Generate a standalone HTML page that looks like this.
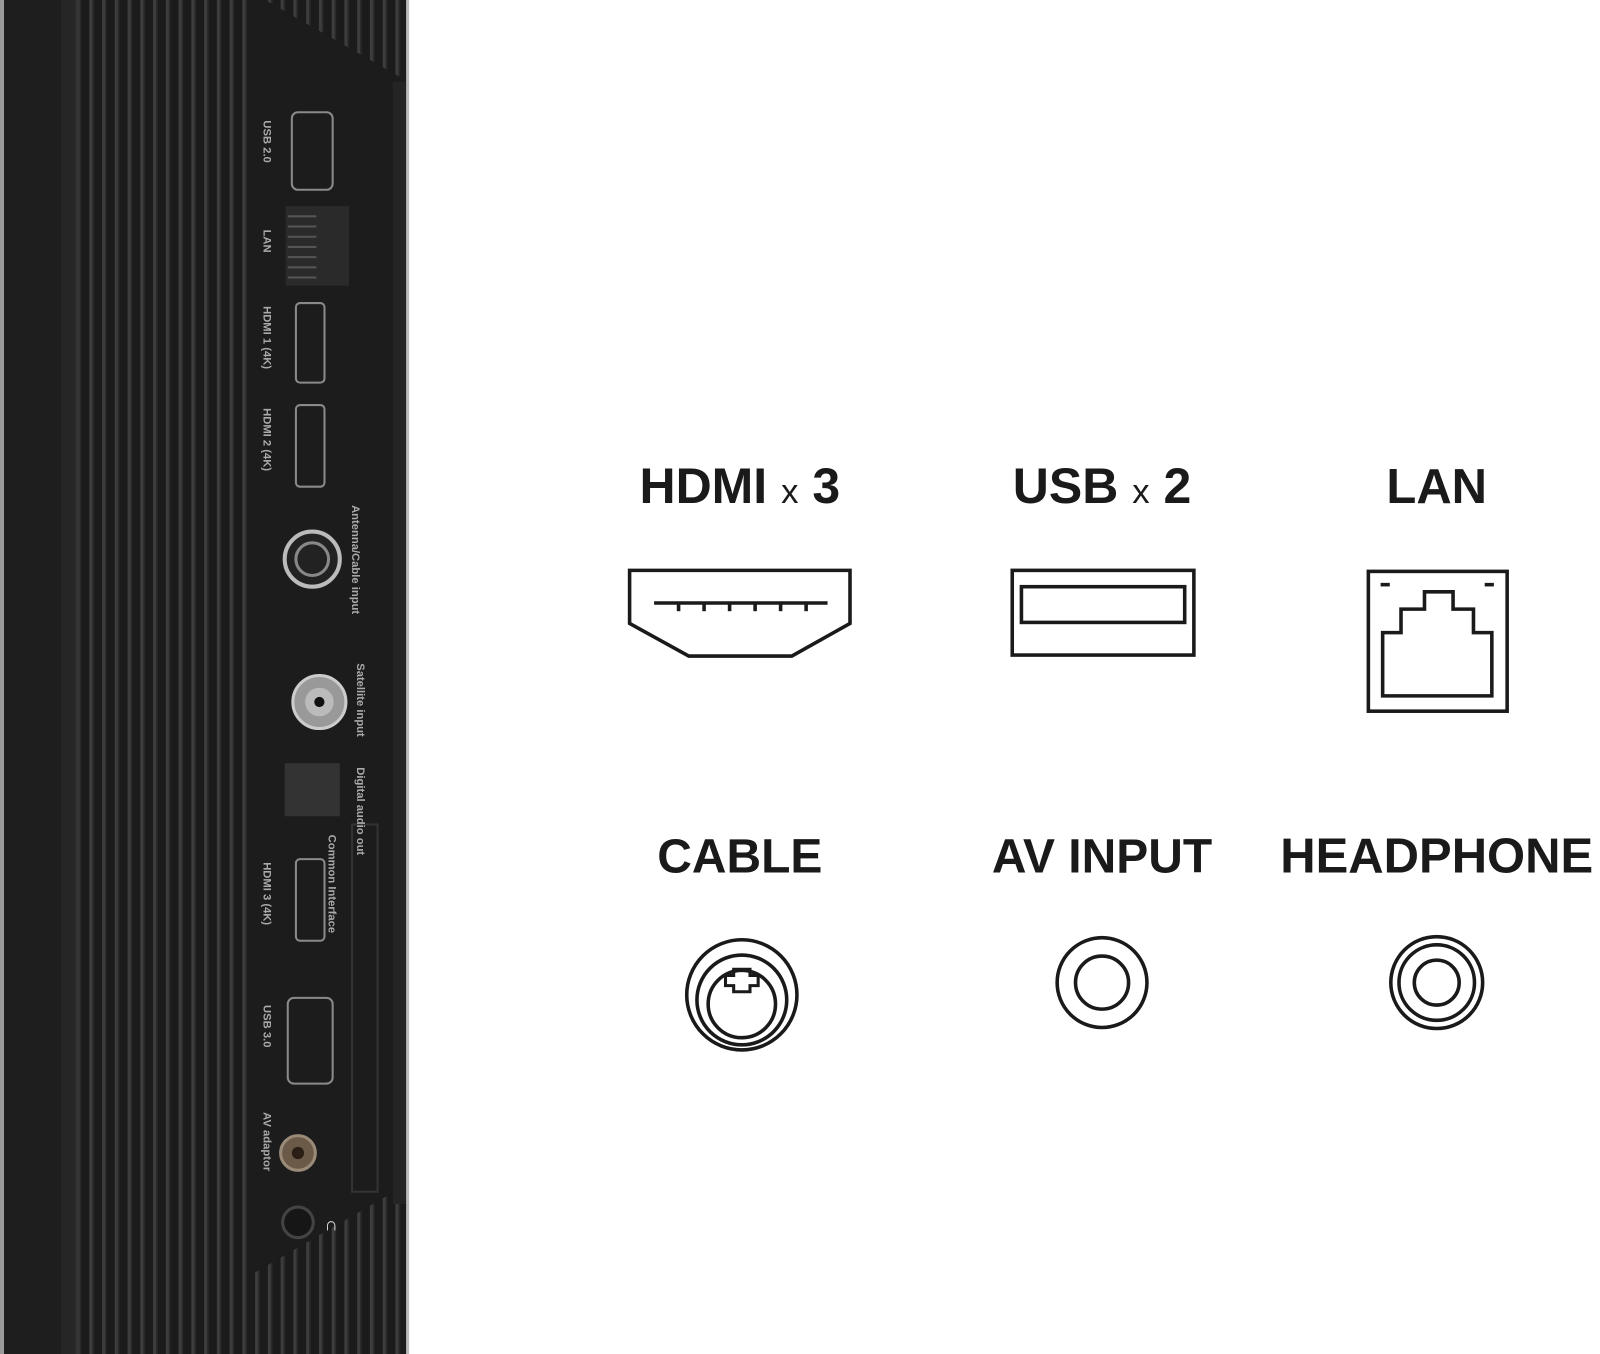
<!DOCTYPE html>
<html><head><style>
html,body{margin:0;padding:0;background:#fff;}
svg{display:block;}
</style></head><body>
<svg width="1600" height="1354" viewBox="0 0 1568 1327" preserveAspectRatio="none" xmlns="http://www.w3.org/2000/svg">
<defs>
<pattern id="rib" width="12.5" height="20" patternUnits="userSpaceOnUse">
<rect width="12.5" height="20" fill="#1b1b1b"/>
<rect x="0" width="3" height="20" fill="#3d3d3d"/>
<rect x="3" width="1.5" height="20" fill="#2a2a2a"/>
</pattern>
</defs>
<rect x="0" y="0" width="1568" height="1327" fill="#fff"/>
<rect x="0" y="0" width="400" height="1327" fill="url(#rib)"/>
<rect x="0" y="0" width="4" height="1327" fill="#9a9a9a"/>
<rect x="4" y="0" width="56" height="1327" fill="#1e1e1e"/>
<rect x="60" y="0" width="14" height="1327" fill="#262626"/>
<rect x="74" y="0" width="3" height="1327" fill="#333"/>
<polygon points="245,0 260,0 400,80 400,1250 245,1250" fill="#1c1c1c"/>
<polygon points="260,0 400,0 400,80" fill="url(#rib)"/>
<polygon points="245,1250 400,1160 400,1327 245,1327" fill="url(#rib)"/>
<rect x="385" y="80" width="13" height="1100" fill="#242424"/>
<rect x="398" y="0" width="3" height="1327" fill="#bbb"/>
<g fill="none" stroke="#8a8a8a" stroke-width="2">
<rect x="286" y="110" width="40" height="76" rx="6"/>
<rect x="290" y="297" width="28" height="78" rx="4"/>
<rect x="290" y="397" width="28" height="80" rx="4"/>
<rect x="290" y="842" width="28" height="80" rx="4"/>
<rect x="282" y="978" width="44" height="84" rx="6"/>
</g>
<rect x="280" y="202" width="62" height="78" fill="#2a2a2a"/>
<g stroke="#555" stroke-width="2">
<line x1="282" y1="212" x2="310" y2="212"/><line x1="282" y1="222" x2="310" y2="222"/><line x1="282" y1="232" x2="310" y2="232"/><line x1="282" y1="242" x2="310" y2="242"/><line x1="282" y1="252" x2="310" y2="252"/><line x1="282" y1="262" x2="310" y2="262"/><line x1="282" y1="272" x2="310" y2="272"/>
</g>
<circle cx="306" cy="548" r="27" fill="#222" stroke="#bbb" stroke-width="4"/>
<circle cx="306" cy="548" r="16" fill="none" stroke="#888" stroke-width="3"/>
<circle cx="313" cy="688" r="26" fill="#999" stroke="#ccc" stroke-width="3"/>
<circle cx="313" cy="688" r="14" fill="#bbb"/>
<circle cx="313" cy="688" r="5" fill="#111"/>
<rect x="279" y="748" width="54" height="52" fill="#333"/>
<rect x="345" y="808" width="25" height="360" fill="none" stroke="#333" stroke-width="2"/>
<circle cx="292" cy="1130" r="17" fill="#6b5a48" stroke="#9a8a78" stroke-width="3"/>
<circle cx="292" cy="1130" r="6" fill="#2a1e15"/>
<circle cx="292" cy="1198" r="15" fill="#161616" stroke="#444" stroke-width="3"/>
<text x="318" y="1206" fill="#ddd" font-family="Liberation Sans, sans-serif" font-size="18" font-weight="bold">∩</text>
<g fill="#aaa" font-family="Liberation Sans, sans-serif" font-size="11" font-weight="bold">
<text transform="translate(258,118) rotate(90)">USB 2.0</text>
<text transform="translate(258,225) rotate(90)">LAN</text>
<text transform="translate(258,300) rotate(90)">HDMI 1 (4K)</text>
<text transform="translate(258,400) rotate(90)">HDMI 2 (4K)</text>
<text transform="translate(345,495) rotate(90)">Antenna/Cable input</text>
<text transform="translate(350,650) rotate(90)">Satellite input</text>
<text transform="translate(350,752) rotate(90)">Digital audio out</text>
<text transform="translate(322,818) rotate(90)">Common Interface</text>
<text transform="translate(258,845) rotate(90)">HDMI 3 (4K)</text>
<text transform="translate(258,985) rotate(90)">USB 3.0</text>
<text transform="translate(258,1090) rotate(90)">AV adaptor</text>
</g>
<g font-family="Liberation Sans, sans-serif" font-weight="bold" fill="#1a1a1a" text-anchor="middle">
<text x="725" y="493" font-size="49">HDMI <tspan font-size="34" font-weight="normal">x</tspan> 3</text>
<text x="1080" y="493" font-size="49">USB <tspan font-size="34" font-weight="normal">x</tspan> 2</text>
<text x="1408" y="493" font-size="48">LAN</text>
<text x="725" y="855" font-size="47">CABLE</text>
<text x="1080" y="855" font-size="47">AV INPUT</text>
<text x="1408" y="855" font-size="48">HEADPHONE</text>
</g>
<g fill="none" stroke="#1a1a1a" stroke-width="3.5">
<polygon points="617,559 833,559 833,611 776,643 675,643 617,611"/>
<rect x="992" y="559" width="178" height="83"/>
<rect x="1001" y="575" width="160" height="35"/>
<rect x="1341" y="560" width="136" height="137"/>
<polygon points="1355,682 1462,682 1462,620 1444,620 1444,597 1424,597 1424,580 1396,580 1396,597 1373,597 1373,620 1355,620"/>
<circle cx="727" cy="975" r="54"/>
<circle cx="727" cy="980" r="44"/>
<circle cx="727" cy="984" r="33"/>
<circle cx="1080" cy="963" r="44"/>
<circle cx="1080" cy="963" r="26"/>
<circle cx="1408" cy="963" r="45"/>
<circle cx="1408" cy="963" r="37"/>
<circle cx="1408" cy="963" r="22"/>
</g>
<g stroke="#1a1a1a" stroke-width="3.5" fill="none">
<line x1="641" y1="591" x2="811" y2="591"/>
<line x1="665" y1="591" x2="665" y2="599"/><line x1="690" y1="591" x2="690" y2="599"/><line x1="715" y1="591" x2="715" y2="599"/><line x1="740" y1="591" x2="740" y2="599"/><line x1="765" y1="591" x2="765" y2="599"/><line x1="790" y1="591" x2="790" y2="599"/>
<line x1="1353" y1="573" x2="1362" y2="573"/><line x1="1455" y1="573" x2="1464" y2="573"/>
<path d="M719,966 h-8 v-10 h8 v-6 h16 v6 h8 v10 h-8 v6 h-16 z" stroke-width="3"/>
</g>
</svg>
</body></html>
